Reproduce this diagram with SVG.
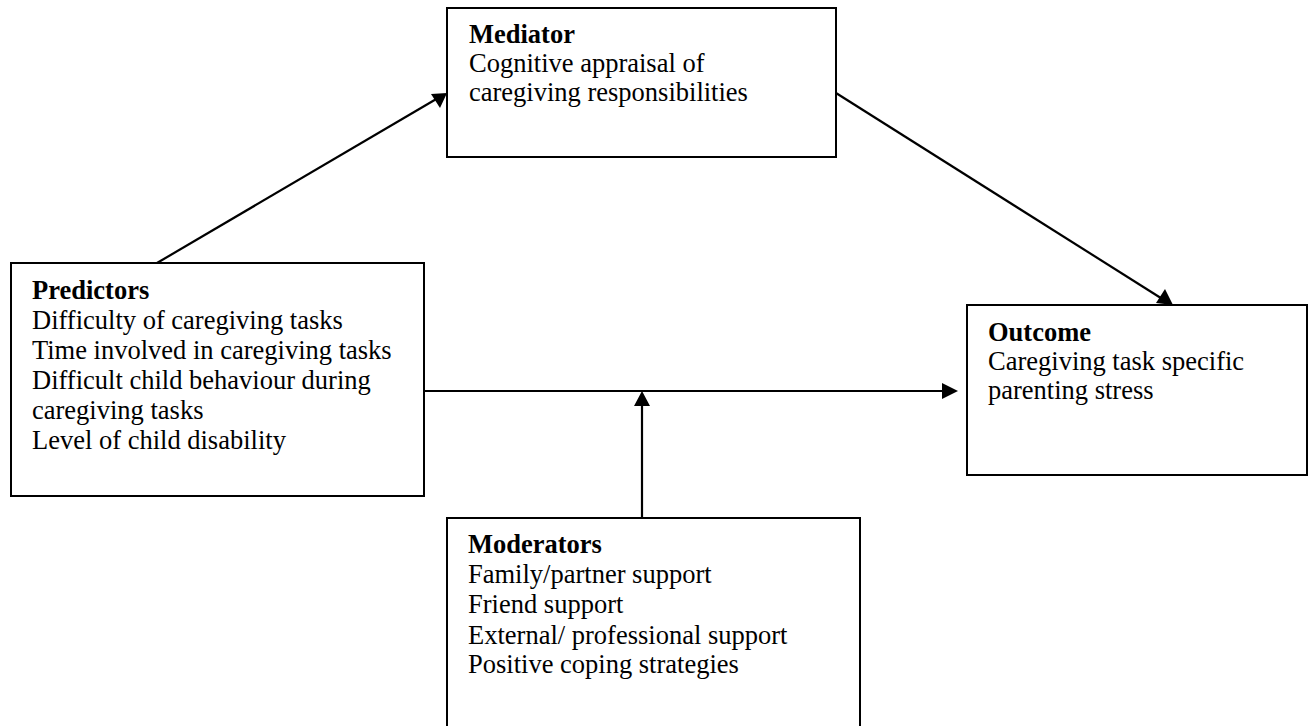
<svg xmlns="http://www.w3.org/2000/svg" width="1309" height="726" viewBox="0 0 1309 726">
  <style>
    .box { fill: #ffffff; stroke: #000000; stroke-width: 2; }
    .txt { font-family: "Liberation Serif", "Times New Roman", serif; font-size: 26.5px; fill: #000000; }
    .hd { font-weight: bold; }
    .edge { stroke: #000000; stroke-width: 2.2; fill: none; }
    .head { fill: #000000; }
  </style>
  <rect width="1309" height="726" fill="#ffffff"/>

  <!-- connectors: shafts plus filled arrowheads -->
  <g id="connectors">
    <line class="edge" x1="157" y1="263" x2="438" y2="98"/>
    <path class="head" d="M447,93 L431,94 L440,108 Z"/>
    <line class="edge" x1="836" y1="93" x2="1164" y2="300"/>
    <path class="head" d="M1173,305 L1156,303 L1165,289 Z"/>
    <line class="edge" x1="424" y1="391" x2="944" y2="391"/>
    <path class="head" d="M958,391 L942,383 L942,399 Z"/>
    <line class="edge" x1="642" y1="518" x2="642" y2="404"/>
    <path class="head" d="M642,391 L634,406 L650,406 Z"/>
  </g>

  <!-- mediator -->
  <g id="mediator">
    <rect class="box" x="447" y="8" width="389" height="149"/>
    <text class="txt hd" x="469" y="43">Mediator</text>
    <text class="txt" x="469" y="72">Cognitive appraisal of</text>
    <text class="txt" x="469" y="101">caregiving responsibilities</text>
  </g>

  <!-- predictors -->
  <g id="predictors">
    <rect class="box" x="11" y="263" width="413" height="233"/>
    <text class="txt hd" x="32" y="299">Predictors</text>
    <text class="txt" x="32" y="329">Difficulty of caregiving tasks</text>
    <text class="txt" x="32" y="359">Time involved in caregiving tasks</text>
    <text class="txt" x="32" y="389">Difficult child behaviour during</text>
    <text class="txt" x="32" y="419">caregiving tasks</text>
    <text class="txt" x="32" y="449">Level of child disability</text>
  </g>

  <!-- outcome -->
  <g id="outcome">
    <rect class="box" x="967" y="305" width="340" height="170"/>
    <text class="txt hd" x="988" y="341">Outcome</text>
    <text class="txt" x="988" y="370">Caregiving task specific</text>
    <text class="txt" x="988" y="399">parenting stress</text>
  </g>

  <!-- moderators -->
  <g id="moderators">
    <rect class="box" x="447" y="518" width="413" height="230"/>
    <text class="txt hd" x="468" y="553">Moderators</text>
    <text class="txt" x="468" y="583">Family/partner support</text>
    <text class="txt" x="468" y="613">Friend support</text>
    <text class="txt" x="468" y="644">External/ professional support</text>
    <text class="txt" x="468" y="673">Positive coping strategies</text>
  </g>
</svg>
